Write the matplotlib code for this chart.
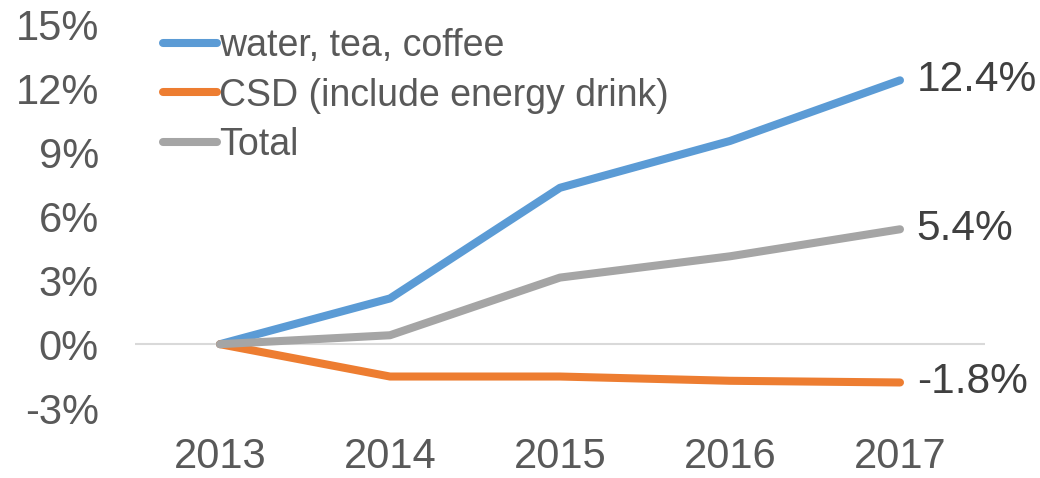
import matplotlib
matplotlib.use('Agg')
import matplotlib.pyplot as plt
import numpy as np

years = ['2013', '2014', '2015', '2016', '2017']
water_tea_coffee = [0.0, 2.15, 7.35, 9.55, 12.4]
csd = [0.0, -1.52, -1.52, -1.72, -1.8]
total = [0.0, 0.42, 3.13, 4.13, 5.4]
end_labels = ['12.4%', '-1.8%', '5.4%']

names = ['water, tea, coffee', 'CSD (include energy drink)', 'Total']
colors = ['#5B9BD5', '#ED7D31', '#A5A5A5']
yticks = [-3, 0, 3, 6, 9, 12, 15]

plt.rcParams['font.family'] = ['Liberation Sans', 'DejaVu Sans']
txt_color = '#595959'

fig = plt.figure(figsize=(10.4, 4.78), dpi=100)
ax = fig.add_axes([0.1298, 0.1464, 0.8173, 0.8013])

x = np.arange(len(years))
series = [water_tea_coffee, csd, total]
for vals, name, c in zip(series, names, colors):
    ax.plot(x, vals, color=c, lw=5.8, solid_capstyle='round',
            solid_joinstyle='round', label=name)

# value labels at the end of each line
for vals, lab in zip(series, end_labels):
    ax.annotate(lab, (x[-1], vals[-1]), xytext=(12, 0), textcoords='offset points',
                va='center', ha='left', fontsize=30.5, color='#404040')

ax.axhline(0, color='#D9D9D9', lw=1.5, zorder=0)
ax.set_xlim(-0.5, len(years) - 0.5)
ax.set_ylim(-3, 15)
ax.set_xticks(x)
ax.set_xticklabels(years)
ax.set_yticks(yticks)
ax.set_yticklabels([f'{v}%' for v in yticks])
ax.tick_params(axis='both', length=0, labelsize=30, labelcolor=txt_color)
ax.tick_params(axis='x', pad=21)
ax.tick_params(axis='y', pad=26)
for s in ax.spines.values():
    s.set_visible(False)

leg = ax.legend(loc='upper left', bbox_to_anchor=(0.015, 1.032), frameon=False,
                fontsize=27, handlelength=1.45, handletextpad=0.05,
                labelspacing=0.37, borderaxespad=0)
for t in leg.get_texts():
    t.set_color(txt_color)

fig.savefig('out.png', dpi=100)
